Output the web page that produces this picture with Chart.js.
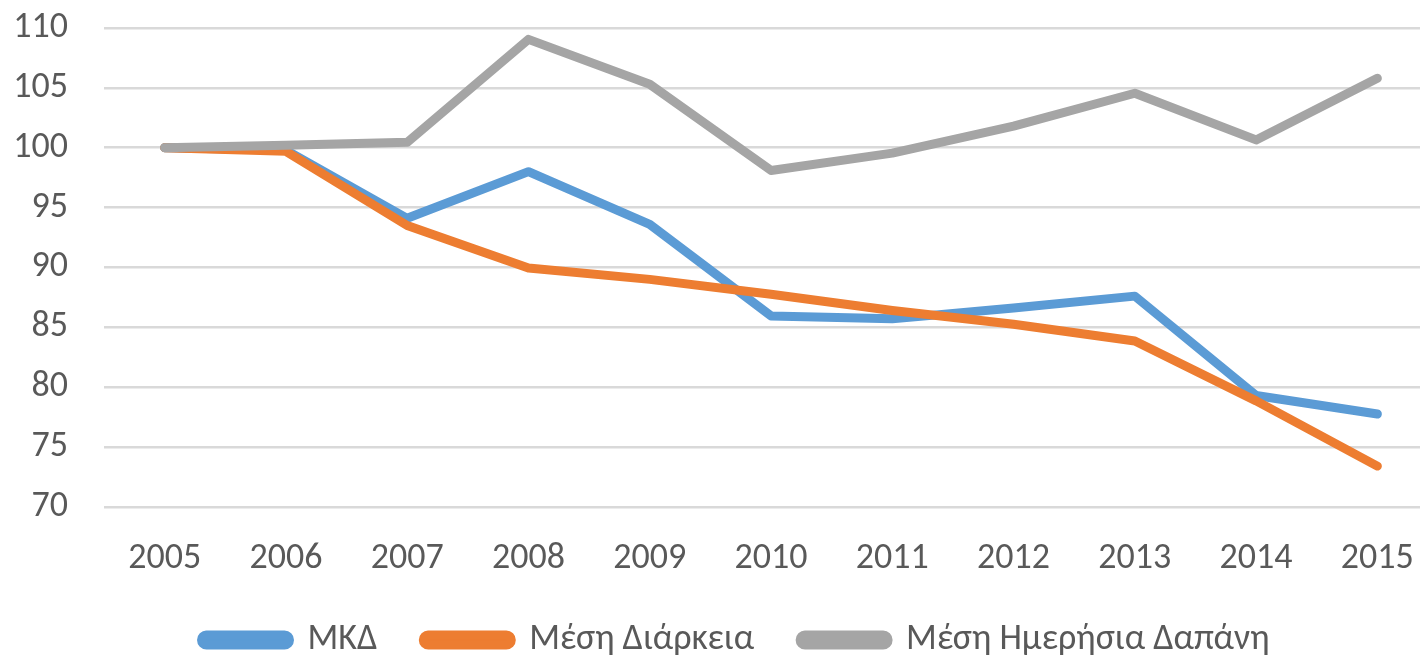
<!DOCTYPE html>
<html>
<head>
<meta charset="utf-8">
<script src="https://cdn.jsdelivr.net/npm/chart.js@4"></script>
<style>
html,body{margin:0;padding:0;background:#fff;overflow:hidden;}
#wrap{width:1440px;height:657px;position:relative;}
</style>
</head>
<body>
<div id="wrap"><canvas id="c"></canvas></div>
<script>
const years = ['2005','2006','2007','2008','2009','2010','2011','2012','2013','2014','2015'];
const mkd = [100, 99.8, 94.1, 98.0, 93.6, 85.95, 85.7, 86.6, 87.6, 79.3, 77.75];
const mesiDiarkeia = [100, 99.7, 93.5, 89.95, 89.0, 87.75, 86.4, 85.25, 83.85, 78.85, 73.4];
const mesiDapani = [100, 100.2, 100.45, 109.05, 105.3, 98.1, 99.55, 101.8, 104.55, 100.65, 105.8];
const seriesNames = ['ΜΚΔ', 'Μέση Διάρκεια', 'Μέση Ημερήσια Δαπάνη'];
const yTicks = [70, 75, 80, 85, 90, 95, 100, 105, 110];

const colors = ['#5B9BD5', '#ED7D31', '#A5A5A5'];
const fontFamily = "Carlito, Calibri, Lato, sans-serif";
const fontSize = 36;

function ds(label, data, color, order){
  return {label, data, borderColor: color, backgroundColor: color, borderWidth: 9,
    borderCapStyle: 'round', borderJoinStyle: 'round', pointRadius: 0, pointHoverRadius: 0,
    tension: 0, fill: false, order};
}

// legend: reserve a fixed band under the x axis, then place it
const LEGEND_BAND = 45;
const legendPlace = {
  id: 'legendPlace',
  afterInit(chart){
    const l = chart.legend;
    if (!l || l._patched) return;
    const origFit = l.fit;
    l.fit = function(){ origFit.call(this); this.height = LEGEND_BAND; };
    l._patched = true;
  },
  afterLayout(chart){
    const l = chart.legend;
    if (!l) return;
    l.left += 10; l.right += 10;
    l.top = 576; l.bottom = chart.height;
    l.height = l.bottom - l.top;
  }
};

new Chart(document.getElementById('c'), {
  type: 'line',
  data: {
    labels: years,
    datasets: [
      ds(seriesNames[0], mkd, colors[0], 3),
      ds(seriesNames[1], mesiDiarkeia, colors[1], 2),
      ds(seriesNames[2], mesiDapani, colors[2], 1)
    ]
  },
  plugins: [legendPlace],
  options: {
    responsive: true,
    maintainAspectRatio: false,
    animation: false,
    layout: {padding: {left: 13, right: 2, top: 28, bottom: 0}},
    plugins: {
      tooltip: {enabled: false},
      legend: {
        position: 'bottom',
        labels: {
          boxWidth: 88, boxHeight: 10, useBorderRadius: true, borderRadius: 5,
          padding: 46, color: '#595959',
          font: {family: fontFamily, size: fontSize},
          sort: (a, b) => a.datasetIndex - b.datasetIndex
        }
      }
    },
    scales: {
      x: {
        offset: true,
        afterFit: (axis) => { axis.paddingLeft = 0; axis.paddingRight = 0; },
        grid: {display: false, drawTicks: false},
        border: {display: false},
        ticks: {color: '#595959', padding: 31, font: {family: fontFamily, size: fontSize}}
      },
      y: {
        min: 70, max: 110,
        afterBuildTicks: (axis) => { axis.ticks = yTicks.map(v => ({value: v})); },
        afterFit: (axis) => { axis.paddingTop = 0; axis.paddingBottom = 0; axis.width = 91; },
        grid: {color: '#D9D9D9', lineWidth: 2.5, drawTicks: false},
        border: {display: false},
        ticks: {color: '#595959', padding: 36, font: {family: fontFamily, size: fontSize}}
      }
    }
  }
});
</script>
</body>
</html>
